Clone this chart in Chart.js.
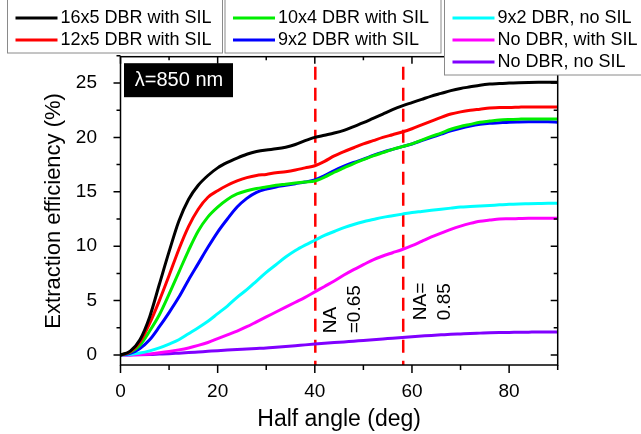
<!DOCTYPE html>
<html>
<head>
<meta charset="utf-8">
<script src="https://cdn.jsdelivr.net/npm/chart.js@4.4.1/dist/chart.umd.min.js"></script>
<style>
  html, body { margin: 0; padding: 0; background: #fff; }
  canvas { display: block; }
</style>
</head>
<body>
<canvas id="chart" width="641" height="434"></canvas>
<script>
/* ── 數據 ──────────────────────────────────── */
const angles = [0,2,4,6,8,10,12,14,16,18,20,22,24,26,28,30,32,34,36,38,40,42,44,46,48,50,52,54,56,58,60,62,64,66,68,70,72,74,76,78,80,82,84,86,88,90];

const dbr16x5Sil = [0,0.35,1.4,3.5,6.5,9.5,12.3,14.3,15.6,16.5,17.2,17.7,18.1,18.45,18.7,18.85,18.95,19.1,19.35,19.7,20.0,20.2,20.4,20.65,21.0,21.35,21.75,22.15,22.55,22.9,23.2,23.5,23.8,24.05,24.3,24.5,24.65,24.8,24.9,24.95,25.0,25.03,25.05,25.06,25.06,25.06];
const dbr12x5Sil = [0,0.3,1.2,2.9,5.0,7.3,9.7,11.8,13.4,14.5,15.1,15.6,16.0,16.3,16.5,16.6,16.75,16.85,17.0,17.2,17.4,17.8,18.3,18.7,19.05,19.4,19.7,20.0,20.25,20.5,20.8,21.15,21.5,21.85,22.15,22.35,22.5,22.6,22.7,22.75,22.75,22.78,22.8,22.8,22.8,22.8];
const dbr10x4Sil = [0,0.25,0.9,2.2,3.7,5.6,7.6,9.6,11.4,12.7,13.6,14.3,14.8,15.1,15.3,15.45,15.6,15.7,15.8,15.9,16.0,16.35,16.8,17.2,17.6,17.95,18.3,18.6,18.9,19.15,19.4,19.75,20.1,20.4,20.75,21.0,21.2,21.4,21.5,21.6,21.65,21.68,21.7,21.7,21.7,21.7];
const dbr9x2Sil  = [0,0.15,0.6,1.4,2.6,3.9,5.3,6.9,8.4,9.9,11.3,12.5,13.6,14.4,14.95,15.25,15.45,15.6,15.75,15.9,16.1,16.5,16.95,17.35,17.7,18.0,18.35,18.65,18.9,19.15,19.4,19.7,20.0,20.3,20.6,20.85,21.05,21.2,21.3,21.35,21.4,21.42,21.43,21.43,21.43,21.4];
const dbr9x2NoSil = [0,0.05,0.18,0.38,0.65,1.0,1.4,1.95,2.5,3.1,3.8,4.5,5.3,6.0,6.8,7.6,8.3,9.0,9.6,10.1,10.55,11.0,11.35,11.7,12.0,12.25,12.45,12.65,12.8,12.95,13.1,13.2,13.3,13.4,13.5,13.6,13.65,13.7,13.75,13.8,13.85,13.88,13.9,13.92,13.94,13.95];
const noDbrSil   = [0,0.01,0.04,0.1,0.2,0.32,0.47,0.65,0.88,1.15,1.5,1.85,2.2,2.6,3.05,3.5,3.95,4.4,4.85,5.3,5.8,6.3,6.8,7.35,7.85,8.3,8.75,9.1,9.4,9.7,10.05,10.45,10.85,11.2,11.55,11.85,12.1,12.3,12.4,12.5,12.52,12.54,12.56,12.56,12.56,12.56];
const noDbrNoSil = [0,0.01,0.02,0.04,0.08,0.12,0.17,0.22,0.28,0.34,0.4,0.45,0.5,0.55,0.6,0.65,0.72,0.79,0.86,0.93,1.0,1.07,1.14,1.2,1.27,1.33,1.4,1.47,1.54,1.61,1.68,1.74,1.8,1.85,1.9,1.94,1.98,2.01,2.04,2.06,2.07,2.09,2.1,2.11,2.11,2.11];

const seriesValues = [dbr16x5Sil, dbr12x5Sil, dbr10x4Sil, dbr9x2Sil, dbr9x2NoSil, noDbrSil, noDbrNoSil];
const seriesLabels = ['16x5 DBR with SIL', '12x5 DBR with SIL', '10x4 DBR with SIL', '9x2 DBR with SIL',
                      '9x2 DBR, no SIL', 'No DBR, with SIL', 'No DBR, no SIL'];
const seriesColors = ['#000000', '#ff0000', '#00ee00', '#0000ff', '#00ffff', '#ff00ff', '#8000ff'];

const xTickVals = [0, 20, 40, 60, 80];
const yTickVals = [0, 5, 10, 15, 20, 25];
const naAngles  = [40.1, 58.2];               // NA=0.65 / NA=0.85 對應半角
const naTexts   = [['NA', '=0.65'], ['NA=', '0.85']];
const naTextPos = [{ x: 43.2, y: 2.0 }, { x: 61.75, y: 3.2 }];
const wavelengthLabel = 'λ=850 nm';

const FONT = 'Arial, "Liberation Sans", sans-serif';

/* ── 圖框與刻度 ───────────────────────────────────── */
const framePlugin = {
  id: 'frame',
  beforeDatasetsDraw(chart) {
    const { ctx, chartArea: a, scales: { x } } = chart;
    ctx.save();
    ctx.strokeStyle = '#ff0000';
    ctx.lineWidth = 2.5;
    ctx.setLineDash([13, 8]);
    naAngles.forEach(v => {
      const px = x.getPixelForValue(v);
      ctx.beginPath();
      ctx.moveTo(px, a.top + 10);
      ctx.lineTo(px, a.bottom);
      ctx.stroke();
    });
    ctx.restore();
  },
  afterDatasetsDraw(chart) {
    const { ctx, chartArea: a, scales: { x, y } } = chart;
    ctx.save();
    ctx.strokeStyle = '#000';
    ctx.lineWidth = 1.5;
    ctx.strokeRect(a.left, a.top, a.right - a.left, a.bottom - a.top);

    ctx.beginPath();
    for (let v = 0; v <= 90; v += 10) {
      const px = x.getPixelForValue(v);
      const major = v % 20 === 0;
      ctx.moveTo(px, a.bottom); ctx.lineTo(px, a.bottom + (major ? 8 : 5));
      ctx.moveTo(px, a.top);    ctx.lineTo(px, a.top + (major ? 7 : 3.5));
    }
    for (let v = 0; v <= 27.5; v += 2.5) {
      const py = y.getPixelForValue(v);
      const major = v % 5 === 0;
      ctx.moveTo(a.left, py);  ctx.lineTo(a.left - (major ? 7 : 4), py);
      ctx.moveTo(a.right, py); ctx.lineTo(a.right - (major ? 7 : 4), py);
    }
    ctx.stroke();

    /* NA 標註（旋轉文字） */
    ctx.fillStyle = '#000';
    ctx.font = '19px ' + FONT;
    ctx.textAlign = 'left';
    ctx.textBaseline = 'middle';
    naTexts.forEach((lines, i) => {
      ctx.save();
      ctx.translate(x.getPixelForValue(naTextPos[i].x), y.getPixelForValue(naTextPos[i].y));
      ctx.rotate(-Math.PI / 2);
      lines.forEach((t, k) => ctx.fillText(t, 0, k * 24.5));
      ctx.restore();
    });

    /* λ 標籤 */
    ctx.fillStyle = '#000';
    ctx.fillRect(a.left + 3.5, a.top + 6.5, 109, 34);
    ctx.fillStyle = '#fff';
    ctx.font = '20px ' + FONT;
    ctx.textAlign = 'center';
    ctx.fillText(wavelengthLabel, a.left + 58.5, a.top + 24);
    ctx.restore();
  }
};

/* ── 圖例：三個方框 ──────────────────────────────── */
const legendPlugin = {
  id: 'boxLegend',
  afterDraw(chart) {
    const { ctx } = chart;
    const groups = [
      { idx: [0, 1],    x: 7,     w: 215, h: 56 },
      { idx: [2, 3],    x: 224.5, w: 216, h: 56 },
      { idx: [4, 5, 6], x: 444,   w: 220, h: 78 }
    ];
    ctx.save();
    ctx.font = '18px ' + FONT;
    ctx.textBaseline = 'middle';
    groups.forEach(g => {
      ctx.fillStyle = '#fff';
      ctx.fillRect(g.x, -3, g.w, g.h);
      ctx.strokeStyle = '#8a8a8a';
      ctx.lineWidth = 1;
      ctx.strokeRect(g.x + 0.5, -3, g.w, g.h);
      g.idx.forEach((di, r) => {
        const ds = chart.data.datasets[di];
        const yy = 18 + r * 22;
        ctx.strokeStyle = ds.borderColor;
        ctx.lineWidth = 3;
        ctx.beginPath();
        ctx.moveTo(g.x + 8.5, yy);
        ctx.lineTo(g.x + 50.5, yy);
        ctx.stroke();
        ctx.fillStyle = '#000';
        ctx.fillText(ds.label, g.x + 53.5, yy);
      });
    });
    ctx.restore();
  }
};

new Chart(document.getElementById('chart'), {
  type: 'line',
  data: {
    datasets: seriesValues.map((vals, i) => ({
      label: seriesLabels[i],
      data: angles.map((a, k) => ({ x: a, y: vals[k] })),
      borderColor: seriesColors[i],
      borderWidth: 3,
      pointRadius: 0,
      cubicInterpolationMode: 'monotone',
      fill: false
    }))
  },
  options: {
    responsive: false,
    animation: false,
    devicePixelRatio: 1,
    layout: { padding: { left: 0, right: 83.3, top: 56.7, bottom: 0 } },
    plugins: { legend: { display: false }, tooltip: { enabled: false } },
    scales: {
      x: {
        type: 'linear', min: 0, max: 90,
        grid: { display: false }, border: { display: false },
        afterBuildTicks: s => { s.ticks = xTickVals.map(v => ({ value: v })); },
        afterFit: s => { s.height = 69; },
        ticks: { color: '#000', font: { family: FONT, size: 19 }, padding: 7, maxRotation: 0 },
        title: { display: true, text: 'Half angle (deg)', color: '#000',
                 font: { family: FONT, size: 23 }, padding: { top: 0, bottom: 1 } }
      },
      y: {
        type: 'linear', min: -0.92, max: 27.42,
        grid: { display: false }, border: { display: false },
        afterBuildTicks: s => { s.ticks = yTickVals.map(v => ({ value: v })); },
        afterFit: s => { s.width = 120.5; },
        ticks: { color: '#000', font: { family: FONT, size: 19 }, padding: 15.5 },
        title: { display: true, text: 'Extraction efficiency (%)', color: '#000',
                 font: { family: FONT, size: 22 }, padding: { top: 41, bottom: 0 } }
      }
    }
  },
  plugins: [framePlugin, legendPlugin]
});
</script>
</body>
</html>
